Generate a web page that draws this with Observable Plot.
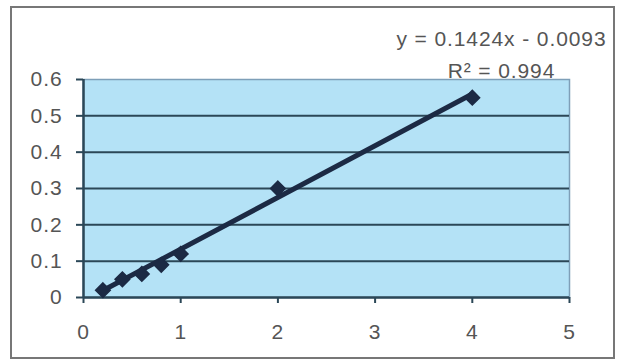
<!DOCTYPE html>
<html>
<head>
<meta charset="utf-8">
<script src="https://cdn.jsdelivr.net/npm/d3@7"></script>
<script src="https://cdn.jsdelivr.net/npm/@observablehq/plot@0.6"></script>
<style>
  body { margin: 0; background: white; }
</style>
</head>
<body>
<div id="chart"></div>
<script>
// Data
const xValues = [0.2, 0.4, 0.6, 0.8, 1.0, 2.0, 4.0];
const yValues = [0.02, 0.05, 0.065, 0.09, 0.12, 0.30, 0.55];
const xTicks = [0, 1, 2, 3, 4, 5];
const yTicks = [0, 0.1, 0.2, 0.3, 0.4, 0.5, 0.6];
const gridLines = [0.1, 0.2, 0.3, 0.4, 0.5];
const fitSlope = 0.1424;
const fitIntercept = -0.0093;
const fitR2 = 0.994;
const labelX = [4.3];

const points = xValues.map((x, i) => ({x, y: yValues[i]}));
const xMin = d3.min(xValues), xMax = d3.max(xValues);
const trend = [xMin, xMax].map(x => ({x, y: fitSlope * x + fitIntercept}));
const eqText = `y = ${fitSlope}x - ${Math.abs(fitIntercept).toFixed(4)}`;
const r2Text = `R² = ${fitR2}`;

const dark = "#1c2a44";
const grid = "#2b4757";
const textColor = "#555";

const chart = Plot.plot({
  width: 618,
  height: 361,
  marginLeft: 83,
  marginRight: 49,
  marginTop: 79,
  marginBottom: 64,
  x: {domain: [0, 5]},
  y: {domain: [0, 0.6]},
  style: {
    fontFamily: "'Liberation Sans', Arial, sans-serif",
    fontSize: "21px",
    letterSpacing: "0.9px",
    background: "white",
    overflow: "visible"
  },
  marks: [
    Plot.frame({fill: "#b4e2f6", stroke: "#7e9fb8", strokeWidth: 1.5}),
    Plot.ruleY(gridLines, {stroke: grid, strokeWidth: 2}),
    Plot.ruleY([0], {stroke: grid, strokeWidth: 2.5}),
    Plot.ruleX([0], {stroke: grid, strokeWidth: 2.5}),
    Plot.axisY(yTicks, {tickSize: 7, tickPadding: 14, stroke: grid, strokeWidth: 2, fill: textColor, label: null, tickFormat: d => `${d}`}),
    Plot.axisX(xTicks, {tickSize: 6, tickPadding: 21, stroke: grid, strokeWidth: 2, fill: textColor, label: null, tickFormat: d => `${d}`}),
    Plot.line(trend, {x: "x", y: "y", stroke: dark, strokeWidth: 5}),
    Plot.dot(points, {x: "x", y: "y", symbol: "diamond2", r: 6.6, fill: dark, stroke: dark}),
    Plot.text(labelX, {x: d => d, frameAnchor: "top", dy: -34, lineAnchor: "bottom", text: () => eqText, fill: textColor, fontSize: 21}),
    Plot.text(labelX, {x: d => d, frameAnchor: "top", dy: -2, lineAnchor: "bottom", text: () => r2Text, fill: textColor, fontSize: 21})
  ]
});

d3.select(chart).insert("rect", ":first-child")
  .attr("x", 11).attr("y", 7).attr("width", 603).attr("height", 351)
  .attr("fill", "none").attr("stroke", "#777").attr("stroke-width", 2);

document.getElementById("chart").append(chart);
</script>
</body>
</html>
